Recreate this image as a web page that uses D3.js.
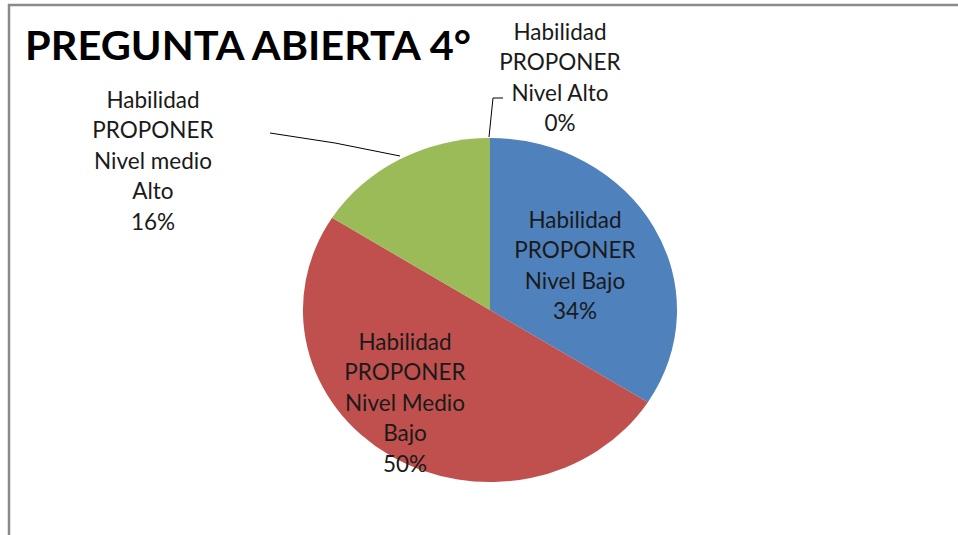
<!DOCTYPE html>
<html><head><meta charset="utf-8">
<script src="https://cdn.jsdelivr.net/npm/d3@7"></script>
<style>html,body{margin:0;padding:0;background:#fff;}svg{display:block;}</style>
</head><body>
<svg id="chart" width="958" height="535"></svg>
<script>
const title = "PREGUNTA ABIERTA 4°";
const categories = ["Habilidad PROPONER Nivel Bajo", "Habilidad PROPONER Nivel Medio Bajo", "Habilidad PROPONER Nivel medio Alto", "Habilidad PROPONER Nivel Alto"];
const labelLines = [
  ["Habilidad", "PROPONER", "Nivel Bajo"],
  ["Habilidad", "PROPONER", "Nivel Medio", "Bajo"],
  ["Habilidad", "PROPONER", "Nivel medio", "Alto"],
  ["Habilidad", "PROPONER", "Nivel Alto"]
];
const values = [34, 50, 16, 0];
const colors = ["#4F81BD", "#C0504D", "#9BBB59", "#8064A2"];

// layout (not data)
const cx = 490, cy = 310, rx = 187, ry = 172;
const labelCenters = [[575, 220], [405, 342], [153, 100], [560, 32]]; // first-line centers
const lineH = 30.5;

const svg = d3.select("#chart");
svg.append("rect").attr("x", 0).attr("y", 0).attr("width", 958).attr("height", 535).attr("fill", "#fff");
// frame
svg.append("line").attr("x1", 8).attr("x2", 958).attr("y1", 5).attr("y2", 5).attr("stroke", "#8a8a8a").attr("stroke-width", 2.5);
svg.append("line").attr("x1", 9).attr("x2", 9).attr("y1", 4).attr("y2", 535).attr("stroke", "#8a8a8a").attr("stroke-width", 2.5);

svg.append("text").attr("x", 25).attr("y", 60).text(title)
  .attr("font-family", "Lato, 'Open Sans', sans-serif").attr("font-weight", "bold")
  .attr("font-size", 41).attr("fill", "#000").attr("textLength", 446).attr("lengthAdjust", "spacingAndGlyphs");

const pie = d3.pie().sort(null).value(d => d)(values);
const arc = d3.arc().innerRadius(0).outerRadius(rx);
const g = svg.append("g").attr("transform", `translate(${cx},${cy}) scale(1,${ry / rx})`);
g.selectAll("path").data(pie).join("path")
  .attr("d", arc).attr("fill", (d, i) => colors[i]);

// leader lines
const line = d3.line();
svg.append("path").attr("d", line([[270, 133], [335, 143], [400, 156]]))
  .attr("fill", "none").attr("stroke", "#000").attr("stroke-width", 1);
svg.append("path").attr("d", line([[489, 137], [493, 98], [503, 98]]))
  .attr("fill", "none").attr("stroke", "#000").attr("stroke-width", 1);

labelLines.forEach((lines, i) => {
  const [lx, ly] = labelCenters[i];
  const t = svg.append("text").attr("text-anchor", "middle")
    .attr("font-family", "Lato, 'Open Sans', sans-serif").attr("font-size", 22.5).attr("fill", "#1a1a1a");
  const all = lines.concat([values[i] + "%"]);
  all.forEach((s, k) => {
    t.append("tspan").attr("x", lx).attr("y", ly + k * lineH).attr("dy", "0.35em").text(s);
  });
});
</script>
</body></html>
